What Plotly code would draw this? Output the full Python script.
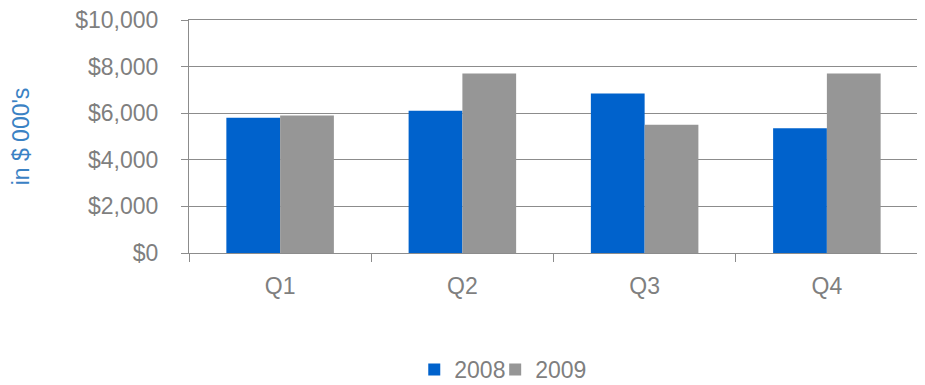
import plotly.graph_objects as go

categories = ["Q1", "Q2", "Q3", "Q4"]
values_2008 = [5800, 6100, 6850, 5350]
values_2009 = [5900, 7700, 5500, 7700]
series_names = ["2008", "2009"]
y_tick_vals = [0, 2000, 4000, 6000, 8000, 10000]
y_tick_text = ["$0", "$2,000", "$4,000", "$6,000", "$8,000", "$10,000"]

FONT = "Liberation Sans"
GRAY_TXT = "#7f7f7f"
LINE = "#8c8c8c"

fig = go.Figure()
fig.add_trace(go.Bar(x=categories, y=values_2008, name=series_names[0],
                     marker=dict(color="#0062CC", line=dict(width=0)), legend="legend"))
fig.add_trace(go.Bar(x=categories, y=values_2009, name=series_names[1],
                     marker=dict(color="#969696", line=dict(width=0)), legend="legend2"))

leg_common = dict(orientation="h", xanchor="left", y=-0.50, yanchor="middle",
                  font=dict(family=FONT, size=23, color=GRAY_TXT),
                  itemwidth=30, bgcolor="rgba(0,0,0,0)")

fig.update_layout(
    width=917, height=377,
    margin=dict(l=181, r=7, t=12, b=132, autoexpand=False),
    paper_bgcolor="white", plot_bgcolor="white",
    barmode="group", bargap=0.41, bargroupgap=0,
    font=dict(family=FONT, size=23, color=GRAY_TXT),
    showlegend=True,
    legend=dict(x=0.309, **leg_common),
    legend2=dict(x=0.42, **leg_common),
)
fig.update_xaxes(
    type="category", showgrid=False, showline=True, linecolor=LINE, linewidth=1, mirror=True,
    ticks="outside", tickson="boundaries", ticklen=8, tickcolor=LINE,
    tickfont=dict(family=FONT, size=23, color=GRAY_TXT), ticklabelstandoff=12,
    automargin=False,
)
fig.update_yaxes(
    range=[0, 10000], tickvals=y_tick_vals, ticktext=y_tick_text,
    showgrid=True, gridcolor=LINE, gridwidth=1,
    showline=True, linecolor=LINE, linewidth=1, mirror=True,
    ticks="outside", ticklen=7, tickcolor=LINE,
    tickfont=dict(family=FONT, size=23, color=GRAY_TXT), ticklabelstandoff=18,
    ticklabeloverflow="allow",
    zeroline=False, automargin=False,
    title=dict(text="in $ 000's", font=dict(family=FONT, size=23, color="#3a82c4"), standoff=46),
)

fig.write_html("out.html")
